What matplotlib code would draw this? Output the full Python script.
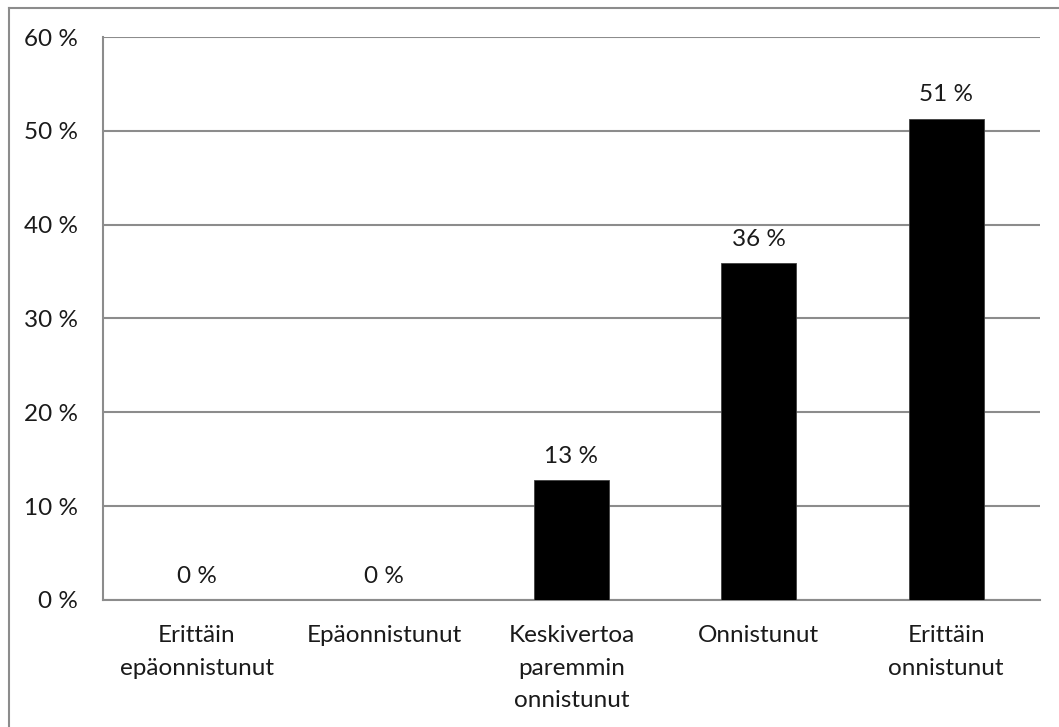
import matplotlib.pyplot as plt
from matplotlib.lines import Line2D

# Vastausten jakauma
categories = ["Erittäin\nepäonnistunut", "Epäonnistunut",
              "Keskivertoa\nparemmin\nonnistunut", "Onnistunut",
              "Erittäin\nonnistunut"]
values = [0.0, 0.0, 12.8, 35.9, 51.3]
labels = ["0 %", "0 %", "13 %", "36 %", "51 %"]
yticks = [0, 10, 20, 30, 40, 50, 60]

plt.rcParams['font.family'] = ['Lato', 'DejaVu Sans']
grid_col = '#8c8c8c'
fs = 17.5

fig = plt.figure(figsize=(10.59, 7.27), dpi=100)
ax = fig.add_axes([0.0973, 0.1747, 0.8847, 0.7744])

x = range(len(categories))
ax.bar(x, values, width=0.4, color='black', edgecolor='#404040', linewidth=0.6, zorder=3)

for i, v in enumerate(values):
    ax.annotate(labels[i], (i, v), xytext=(0, 9.5), textcoords='offset points',
                ha='center', va='bottom', fontsize=fs, color='#1a1a1a')

ax.set_xlim(-0.5, len(categories) - 0.5)
ax.set_ylim(0, 60)
ax.set_yticks(yticks)
ax.set_yticklabels([f"{t} %" for t in yticks])
ax.set_xticks(list(x))
ax.set_xticklabels(categories, linespacing=1.68, va='top')
ax.tick_params(axis='both', length=0, labelsize=fs, colors='#1a1a1a')
ax.tick_params(axis='y', pad=18)
ax.tick_params(axis='x', pad=18)

ax.grid(axis='y', color=grid_col, linewidth=1.5, zorder=0)
for side in ['top', 'right']:
    ax.spines[side].set_visible(False)
for side in ['left', 'bottom']:
    ax.spines[side].set_color(grid_col)
    ax.spines[side].set_linewidth(1.5)

# kehys kuvan ylä- ja vasemmassa reunassa
W, H = 1059, 727
fig.add_artist(Line2D([8.5 / W, 8.5 / W], [0, 1 - 7.5 / H], color='#8c8c8c', linewidth=1.5))
fig.add_artist(Line2D([8.5 / W, 1], [1 - 7.5 / H, 1 - 7.5 / H], color='#8c8c8c', linewidth=1.5))

fig.savefig('out.png', dpi=100, facecolor='white')
